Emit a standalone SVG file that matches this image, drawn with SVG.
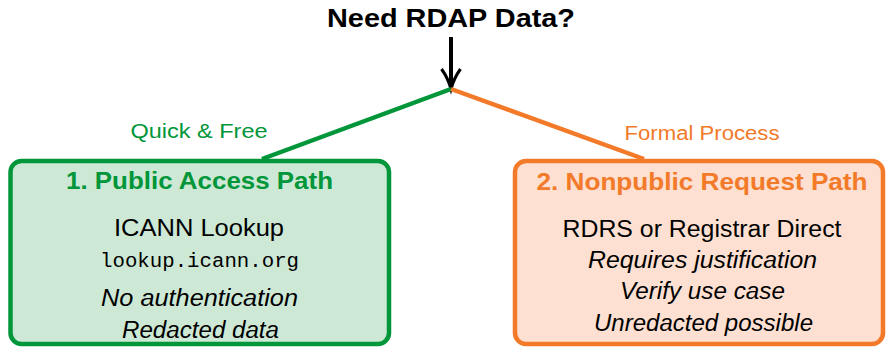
<svg xmlns="http://www.w3.org/2000/svg" width="887" height="348" viewBox="0 0 887 348">
<style>
text{font-family:"Liberation Sans",Arial,sans-serif;text-anchor:middle;}
.t{font-size:25px;font-weight:bold;fill:#000;}
.g{fill:#009639;}
.o{fill:#f27a29;}
.lbl{font-size:20px;}
.h{font-size:24px;font-weight:bold;}
.b{font-size:23.5px;fill:#000;}
.i{font-size:23.5px;font-style:italic;fill:#000;}
.m{font-family:"Liberation Mono","Courier New",monospace;font-size:20px;fill:#000;}
.boxg{fill:#cde9d6;stroke:#009639;stroke-width:4.5;}
.boxo{fill:#fde0d1;stroke:#f27a29;stroke-width:4.5;}
</style>
<rect width="887" height="348" fill="#fff"/>
<g id="start">
<text class="t" x="451" y="27" textLength="248" lengthAdjust="spacingAndGlyphs">Need RDAP Data?</text>
</g>
<g id="connectors" fill="none" stroke-linecap="butt">
<line x1="451" y1="37" x2="451" y2="86" stroke="#000" stroke-width="4"/>
<path d="M441.5,69 Q448,78 451,89 Q454,78 460.5,69" stroke="#000" stroke-width="3" stroke-linejoin="miter"/>
<line x1="451" y1="89" x2="262" y2="159" stroke="#009639" stroke-width="4.5"/>
<line x1="451" y1="89" x2="644" y2="159" stroke="#f27a29" stroke-width="4.5"/>
<text class="lbl g" x="199" y="138" textLength="137" lengthAdjust="spacingAndGlyphs" stroke="none">Quick &amp; Free</text>
<text class="lbl o" x="702" y="140" textLength="155" lengthAdjust="spacingAndGlyphs" stroke="none">Formal Process</text>
</g>
<g id="public">
<rect class="boxg" x="10.5" y="161" width="378.5" height="183" rx="11"/>
<text class="h g" x="199.5" y="189" textLength="267" lengthAdjust="spacingAndGlyphs">1. Public Access Path</text>
<text class="b" x="199" y="236" textLength="170" lengthAdjust="spacingAndGlyphs">ICANN Lookup</text>
<text class="m" x="199.5" y="267" textLength="199" lengthAdjust="spacingAndGlyphs">lookup.icann.org</text>
<text class="i" x="199.5" y="306" textLength="197" lengthAdjust="spacingAndGlyphs">No authentication</text>
<text class="i" x="200.5" y="338" textLength="157" lengthAdjust="spacingAndGlyphs">Redacted data</text>
</g>
<g id="nonpublic">
<rect class="boxo" x="515" y="161" width="368" height="183" rx="11"/>
<text class="h o" x="702" y="190" textLength="331" lengthAdjust="spacingAndGlyphs">2. Nonpublic Request Path</text>
<text class="b" x="702" y="237" textLength="279" lengthAdjust="spacingAndGlyphs">RDRS or Registrar Direct</text>
<text class="i" x="702.5" y="268" textLength="229" lengthAdjust="spacingAndGlyphs">Requires justification</text>
<text class="i" x="702.5" y="299" textLength="165" lengthAdjust="spacingAndGlyphs">Verify use case</text>
<text class="i" x="703.5" y="331" textLength="219" lengthAdjust="spacingAndGlyphs">Unredacted possible</text>
</g>
</svg>
